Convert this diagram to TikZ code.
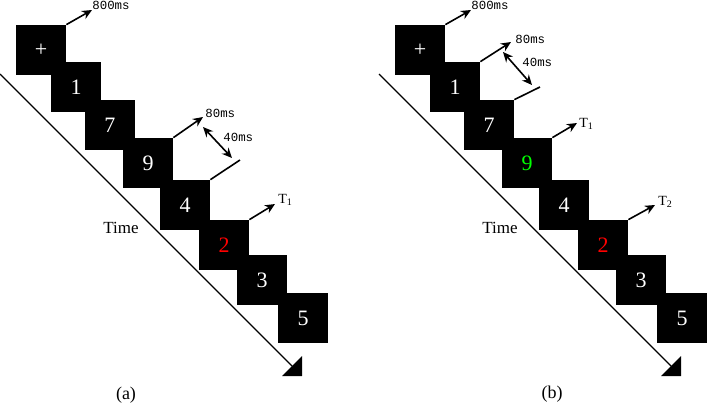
\documentclass[tikz,border=0pt]{standalone}
\usepackage{fontspec}
\setmainfont{Liberation Serif}
\newfontfamily\msfont{Liberation Mono}
\usetikzlibrary{arrows.meta,positioning}

\begin{document}
\begin{tikzpicture}[x=0.5pt,y=-0.5pt,
      stim/.style={fill=black,text=white,minimum size=25pt,inner sep=0pt,
                   font=\fontsize{11}{11}\selectfont},
      dur/.style={font=\msfont\fontsize{6.2}{6.2}\selectfont,inner sep=0pt,anchor=west},
      tlab/.style={font=\fontsize{7}{7}\selectfont,inner sep=0pt,anchor=west},
      panellab/.style={font=\fontsize{9}{9}\selectfont,inner sep=0pt},
      arr/.style={-{Stealth[length=5pt,width=4.5pt]},line width=0.8pt},
      dbl/.style={{Stealth[length=5pt,width=4.5pt]}-{Stealth[length=5pt,width=4.5pt]},line width=0.8pt},
      axis/.style={-{Triangle[length=7pt,width=14pt]},line width=0.6pt},
  ]
  \useasboundingbox (0,0) rectangle (708,404);

  % Stimulus streams (a) and (b)
  \foreach \p/\dx/\hc in {a/0/white,b/379/green} {
    \foreach \x/\y/\d/\c [count=\i] in {16/25/+/white,51/62/1/white,85/100/7/white,
        123/138/9/\hc,160/180/4/white,199/220/2/red,237/255/3/white,278/293/5/white}
      \node[stim,text=\c] (\p\i) at (\x+\dx+25,\y+25) {\d};
  }

  % Fixation, time axis
  \foreach \p/\dx in {a/0,b/379} {
    \coordinate (\p800) at (92+\dx,10);
    \draw[arr] (\p1.north east) -- (\p800);
    \node[dur] (l800\p) at (92+\dx,5) {800ms};
    \coordinate (\p ax0) at (\dx,74);
    \coordinate (\p ax1) at (302+\dx,376);
    \draw[axis] (\p ax0) -- (\p ax1);
    \node[font=\fontsize{8.5}{8.5}\selectfont,inner sep=0pt] (time\p) at (121+\dx,228) {Time};
  }

  % Captions
  \node[panellab] (laba) at (126,395) {(a)};
  \node[panellab] (labb) at (552,394) {(b)};

  % Panel (a): SOA and target
  \coordinate (a80) at (203,117);
  \draw[arr] (a4.north east) -- (a80);
  \node[dur] (l80a) at (205,113) {80ms};
  \coordinate (a40s) at (203,127);
  \coordinate (a40e) at (232,158);
  \draw[dbl] (a40s) -- (a40e);
  \node[dur] (l40a) at (223,137) {40ms};
  \coordinate (aoff) at (240,160);
  \draw[line width=0.8pt] (a5.north east) -- (aoff);
  \coordinate (aT1) at (275,204);
  \draw[arr] (a6.north east) -- (aT1);
  \node[tlab] (lT1a) at (278,200) {T\textsubscript{1}};

  % Panel (b): SOA and two targets
  \coordinate (b80) at (511,42);
  \draw[arr] (b2.north east) -- (b80);
  \node[dur] (l80b) at (515,39) {80ms};
  \coordinate (b40s) at (503,52);
  \coordinate (b40e) at (532,85);
  \draw[dbl] (b40s) -- (b40e);
  \node[dur] (l40b) at (522,62) {40ms};
  \coordinate (boff) at (540,87);
  \draw[line width=0.8pt] (b3.north east) -- (boff);
  \coordinate (bT1) at (577,123);
  \draw[arr] (b4.north east) -- (bT1);
  \node[tlab] (lT1b) at (579,124) {T\textsubscript{1}};
  \coordinate (bT2) at (655,205);
  \draw[arr] (b6.north east) -- (bT2);
  \node[tlab] (lT2b) at (658,202) {T\textsubscript{2}};
\end{tikzpicture}
\end{document}
